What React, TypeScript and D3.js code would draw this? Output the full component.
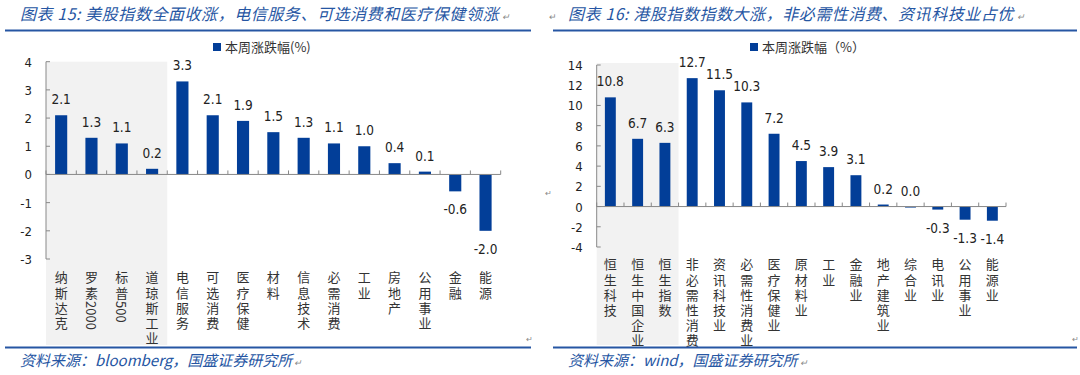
import React from "react";
import * as d3 from "d3";

const usCategories = ["纳斯达克", "罗素2000", "标普500", "道琼斯工业", "电信服务", "可选消费", "医疗保健", "材料", "信息技术", "必需消费", "工业", "房地产", "公用事业", "金融", "能源"];
const usValues = [2.1, 1.3, 1.1, 0.2, 3.3, 2.1, 1.9, 1.5, 1.3, 1.1, 1.0, 0.4, 0.1, -0.6, -2.0];
const usTicks = [-3, -2, -1, 0, 1, 2, 3, 4];

const hkCategories = ["恒生科技", "恒生中国企业", "恒生指数", "非必需性消费", "资讯科技业", "必需性消费业", "医疗保健业", "原材料业", "工业", "金融业", "地产建筑业", "综合业", "电讯业", "公用事业", "能源业"];
const hkValues = [10.8, 6.7, 6.3, 12.7, 11.5, 10.3, 7.2, 4.5, 3.9, 3.1, 0.2, 0.0, -0.3, -1.3, -1.4];
const hkTicks = [-4, -2, 0, 2, 4, 6, 8, 10, 12, 14];

const BAR = "#023E98";
const BLUE = "#2656A3";
const TXT = "#222";
const NUMF = "'DejaVu Sans Condensed', 'Liberation Sans', sans-serif";
const CJK = "'Noto Sans CJK SC', sans-serif";

type PanelProps = {
  cats: string[];
  vals: number[];
  ticks: number[];
  x0: number; x1: number; yTop: number; yBot: number;
  grayN: number; grayTop: number;
  labelY: number;
  legendX: number; legendText: string;
  left: number; right: number; titleX: number;
  title: string; source: string;
  titleMark?: boolean;
};

function runs(s: string): { t: string; latin: boolean }[] {
  const out: { t: string; latin: boolean }[] = [];
  for (const ch of s) {
    const latin = /[0-9A-Za-z]/.test(ch);
    const last = out[out.length - 1];
    if (last && last.latin === latin) last.t += ch;
    else out.push({ t: ch, latin });
  }
  return out;
}

function Panel(p: PanelProps) {
  const dom = [p.ticks[0], p.ticks[p.ticks.length - 1]];
  const y = d3.scaleLinear().domain(dom).range([p.yBot, p.yTop]);
  const x = d3.scaleBand<string>().domain(p.cats).range([p.x0, p.x1]).paddingInner(0.6).paddingOuter(0.3);
  const step = x.step();
  const y0 = y(0);
  return (
    <g>
      {p.titleMark && <text x={p.left - 4} y={20} fontSize={9} fill="#888" fontFamily={CJK}>↵</text>}
      <text x={p.titleX} y={20} fontSize={16} fill={BLUE} fontStyle="italic" fontFamily={CJK} letterSpacing={0.55}>{p.title}<tspan fontSize={9} fill="#888" dx={3}>↵</tspan></text>
      <line x1={p.left} x2={p.right} y1={30.5} y2={30.5} stroke={BLUE} strokeWidth={2} />
      <rect x={p.x0} y={p.grayTop} width={step * p.grayN} height={345 - p.grayTop} fill="#F2F2F2" />
      <rect x={p.legendX} y={43} width={8} height={8} fill={BAR} />
      <text x={p.legendX + 12} y={52} fontSize={13} fill="#333" fontFamily={CJK}>{p.legendText}</text>
      {/* y axis */}
      <line x1={p.x0} x2={p.x0} y1={p.yTop} y2={p.yBot} stroke="#888" />
      {p.ticks.map((t) => (
        <g key={t}>
          <line x1={p.x0} x2={p.x0 + 4} y1={y(t)} y2={y(t)} stroke="#888" />
          <text x={p.x0 - 14} y={y(t) + 5} textAnchor="end" fontSize={13} fill={TXT} fontFamily={NUMF}>{t}</text>
        </g>
      ))}
      {/* bars */}
      {p.cats.map((c, i) => {
        const v = p.vals[i];
        const top = Math.min(y(v), y0);
        const h = Math.abs(y(v) - y0);
        const cx = (x(c) as number) + x.bandwidth() / 2;
        return (
          <g key={c}>
            <rect x={x(c)} y={top} width={x.bandwidth()} height={Math.max(h, 1)} fill={BAR} />
            <text x={cx} y={v >= 0 ? y(v) - 11 : y(v) + 23} textAnchor="middle" fontSize={13.5} fill={TXT} fontFamily={NUMF}>{v.toFixed(1)}</text>
          </g>
        );
      })}
      {/* x axis */}
      <line x1={p.x0} x2={p.x1} y1={y0} y2={y0} stroke="#888" />
      {d3.range(p.cats.length + 1).map((i) => (
        <line key={i} x1={p.x0 + i * step} x2={p.x0 + i * step} y1={y0 - 4} y2={y0} stroke="#888" />
      ))}
      {p.cats.map((c) => (
        <text key={c} x={(x(c) as number) + x.bandwidth() / 2} y={p.labelY} fontSize={13} fill="#333" fontFamily={CJK} style={{ writingMode: "vertical-rl" } as any}>
          {runs(c).map((r, k) => (
            <tspan key={k} letterSpacing={r.latin ? 0 : 2.2} dy={r.latin ? 0 : 0}>{r.t}</tspan>
          ))}
        </text>
      ))}
      <line x1={p.left} x2={p.right} y1={347.5} y2={347.5} stroke={BLUE} strokeWidth={2} />
      <text x={p.right - 5} y={342} fontSize={8} fill="#888" fontFamily={CJK}>↵</text>
      <text x={p.titleX} y={366} fontSize={15} fill={BLUE} fontStyle="italic" fontFamily={CJK}>{p.source}<tspan fontSize={9} fill="#888" dx={2}>↵</tspan></text>
    </g>
  );
}

export default function App() {
  return (
    <svg width={1080} height={375} style={{ position: "absolute", left: 0, top: 0, background: "#fff" }}>
      <Panel cats={usCategories} vals={usValues} ticks={usTicks}
        x0={46} x1={500.7} yTop={61.7} yBot={259} grayN={4} grayTop={61.7} labelY={271}
        legendX={213} legendText="本周涨跌幅(%)" left={5} right={531} titleX={20}
        title="图表 15:  美股指数全面收涨，电信服务、可选消费和医疗保健领涨" source="资料来源：bloomberg，国盛证券研究所" />
      <Panel cats={hkCategories} vals={hkValues} ticks={hkTicks}
        x0={596.7} x1={1006} yTop={65} yBot={247} grayN={3} grayTop={63} labelY={258}
        legendX={750} legendText="本周涨跌幅（%）" left={553} right={1077} titleX={568} titleMark
        title="图表 16:  港股指数指数大涨，非必需性消费、资讯科技业占优" source="资料来源：wind，国盛证券研究所" />
      <text x={545} y={196} fontSize={8} fill="#888">↵</text>
    </svg>
  );
}
